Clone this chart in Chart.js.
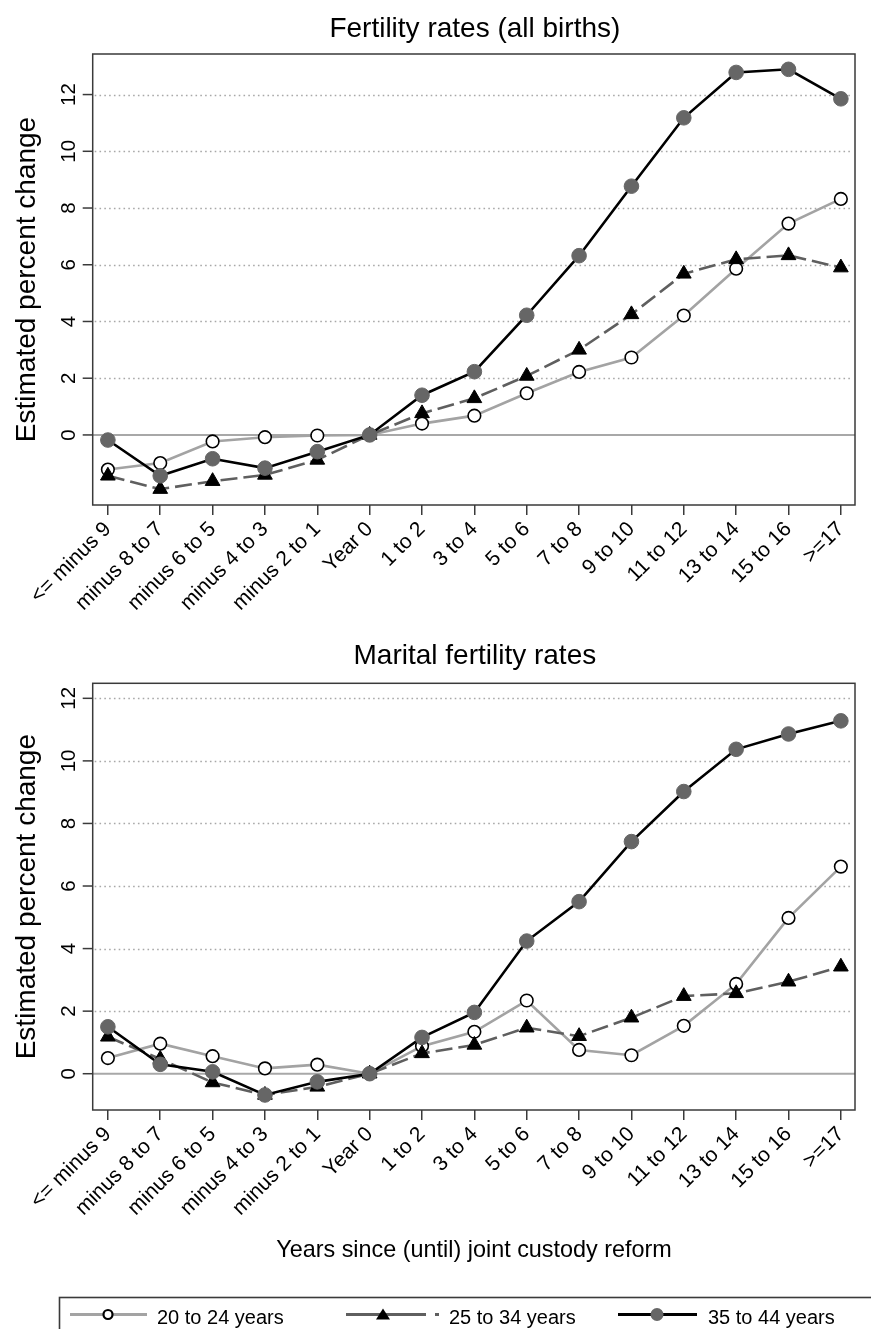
<!DOCTYPE html>
<html>
<head>
<meta charset="utf-8">
<script src="https://cdn.jsdelivr.net/npm/chart.js@4.4.0/dist/chart.umd.min.js"></script>
<style>
html,body{margin:0;padding:0;background:#fff;width:871px;height:1329px;overflow:hidden;}
canvas{position:absolute;left:0;display:block;}
#c1{top:0;}
#c2{top:630px;}
</style>
</head>
<body>
<canvas id="c1" width="871" height="630"></canvas>
<canvas id="c2" width="871" height="699"></canvas>
<script>
// ---------------- DATA ----------------
const categories = ['<= minus 9','minus 8 to 7','minus 6 to 5','minus 4 to 3','minus 2 to 1','Year 0',
  '1 to 2','3 to 4','5 to 6','7 to 8','9 to 10','11 to 12','13 to 14','15 to 16','>=17'];
const seriesNames = ['20 to 24 years','25 to 34 years','35 to 44 years'];
const yTickValues = [0, 2, 4, 6, 8, 10, 12];

const allBirths20to24 = [-1.22, -0.99, -0.23, -0.08, -0.02, 0, 0.40, 0.68, 1.47, 2.22, 2.73, 4.21, 5.86, 7.45, 8.32];
const allBirths25to34 = [-1.44, -1.91, -1.63, -1.41, -0.88, 0, 0.76, 1.29, 2.08, 3.00, 4.25, 5.68, 6.19, 6.33, 5.90];
const allBirths35to44 = [-0.18, -1.44, -0.84, -1.17, -0.59, 0, 1.40, 2.23, 4.22, 6.32, 8.77, 11.18, 12.78, 12.89, 11.85];

const marital20to24 = [0.50, 0.96, 0.56, 0.17, 0.29, 0, 0.88, 1.34, 2.34, 0.76, 0.59, 1.53, 2.87, 4.98, 6.62];
const marital25to34 = [1.18, 0.47, -0.28, -0.68, -0.42, 0, 0.65, 0.92, 1.47, 1.20, 1.79, 2.48, 2.57, 2.94, 3.42];
const marital35to44 = [1.50, 0.30, 0.06, -0.68, -0.26, 0, 1.16, 1.96, 4.24, 5.50, 7.42, 9.02, 10.37, 10.86, 11.28];

// ---------------- STYLES ----------------
const FONT = '"Liberation Sans", Arial, Helvetica, sans-serif';
const styles = [
  {borderColor:'#a3a3a3', borderWidth:2.6, borderDash:[], pointStyle:'circle', pointRadius:6.3,
   pointBackgroundColor:'#ffffff', pointBorderColor:'#000000', pointBorderWidth:1.6, order:3},
  {borderColor:'#5f5f5f', borderWidth:2.6, borderDash:[17,6], pointStyle:'triangle', pointRadius:8.5,
   pointBackgroundColor:'#000000', pointBorderColor:'#000000', pointBorderWidth:1, order:2},
  {borderColor:'#000000', borderWidth:2.6, borderDash:[], pointStyle:'circle', pointRadius:7.3,
   pointBackgroundColor:'#666666', pointBorderColor:'#666666', pointBorderWidth:1, order:1}
];

function toPoints(arr){ return arr.map((v,i)=>({x:i, y:v})); }

function makeChart(canvasId, titleText, titleBaseline, seriesArrays, yMin, yMax, geo, extraDraw){
  const datasets = seriesArrays.map((arr, k) => Object.assign({
    label: seriesNames[k],
    data: toPoints(arr),
    fill:false, tension:0, pointHoverRadius: styles[k].pointRadius
  }, styles[k]));

  const framePlugin = {
    id:'frame'+canvasId,
    beforeDatasetsDraw(chart){
      const {ctx, chartArea:a, scales:{y}} = chart;
      ctx.save();
      ctx.strokeStyle = '#a8a8a8';
      ctx.lineWidth = 1.6;
      ctx.setLineDash([1.6,3.2]);
      yTickValues.forEach(v => {
        if (v === 0) return;
        const py = Math.round(y.getPixelForValue(v)) + 0.5;
        ctx.beginPath(); ctx.moveTo(a.left+2, py); ctx.lineTo(a.right-2, py); ctx.stroke();
      });
      ctx.setLineDash([]);
      const pz = y.getPixelForValue(0);
      ctx.strokeStyle = '#a8a8a8';
      ctx.lineWidth = 2;
      ctx.beginPath(); ctx.moveTo(a.left, pz); ctx.lineTo(a.right, pz); ctx.stroke();
      ctx.restore();
    },
    afterDraw(chart){
      const {ctx, chartArea:a, scales:{y}} = chart;
      ctx.save();
      ctx.strokeStyle = '#3a3a3a';
      ctx.lineWidth = 1.5;
      ctx.strokeRect(a.left, a.top, a.right-a.left, a.bottom-a.top);
      ctx.fillStyle = '#000';
      ctx.font = '20.5px ' + FONT;
      ctx.lineWidth = 1.5;
      ctx.strokeStyle = '#3a3a3a';
      yTickValues.forEach(v => {
        const py = y.getPixelForValue(v);
        ctx.beginPath(); ctx.moveTo(a.left-10, py); ctx.lineTo(a.left, py); ctx.stroke();
        ctx.save();
        ctx.translate(74.5, py);
        ctx.rotate(-Math.PI/2);
        ctx.textAlign = 'center';
        ctx.textBaseline = 'alphabetic';
        ctx.fillText(String(v), 0, 0);
        ctx.restore();
      });
      ctx.font = '28px ' + FONT;
      ctx.textAlign = 'center';
      ctx.textBaseline = 'alphabetic';
      ctx.fillText(titleText, (a.left + a.right)/2 + 1, titleBaseline);
      ctx.restore();
      if (extraDraw) extraDraw(chart);
    }
  };

  return new Chart(document.getElementById(canvasId), {
    type:'line',
    data:{ datasets },
    options:{
      responsive:false,
      animation:false,
      events:[],
      layout:{ padding:{ top:geo.top, right:geo.right, left:0, bottom:0 } },
      plugins:{ legend:{display:false}, tooltip:{enabled:false}, title:{display:false} },
      scales:{
        x:{
          type:'linear',
          min:-0.29, max:14.27,
          afterBuildTicks(scale){ scale.ticks = categories.map((_,i)=>({value:i})); },
          afterFit(scale){ scale.height = geo.xHeight; scale.paddingLeft = 0; scale.paddingRight = 0; },
          border:{display:false},
          grid:{ drawOnChartArea:false, drawTicks:true, tickLength:10, color:'#3a3a3a', lineWidth:1.5 },
          ticks:{
            autoSkip:false, minRotation:45, maxRotation:45, padding:2,
            color:'#000', font:{family:FONT, size:21},
            callback:(v)=>categories[v]
          }
        },
        y:{
          min:yMin, max:yMax,
          afterBuildTicks(scale){ scale.ticks = yTickValues.map(v=>({value:v})); },
          afterFit(scale){ scale.width = geo.left; },
          border:{display:false},
          grid:{display:false},
          ticks:{display:false},
          title:{ display:true, text:'Estimated percent change', color:'#000',
                  font:{family:FONT, size:28}, padding:{top:10, bottom:0} }
        }
      }
    },
    plugins:[framePlugin]
  });
}

makeChart('c1', 'Fertility rates (all births)', 36.5,
  [allBirths20to24, allBirths25to34, allBirths35to44],
  -2.47, 13.43,
  {top:54, right:16, left:92.7, xHeight:630-505});

function drawLegendAndAxisTitle(chart){
  const ctx = chart.ctx;
  ctx.save();
  ctx.fillStyle = '#000';
  ctx.font = '23.4px ' + FONT;
  ctx.textAlign = 'center';
  ctx.textBaseline = 'alphabetic';
  ctx.fillText('Years since (until) joint custody reform', 474, 1256.5-630);
  ctx.strokeStyle = '#3a3a3a';
  ctx.lineWidth = 1.6;
  ctx.strokeRect(59.5, 1297.5-630, 900, 100);
  const ly = 1314.5 - 630;
  const items = [
    {segs:[[70,147]], mx:108, tx:157},
    {segs:[[346,426],[435,439]], mx:383, tx:449},
    {segs:[[618,697]], mx:657, tx:708}
  ];
  items.forEach((it, k) => {
    const s = styles[k];
    ctx.save();
    ctx.strokeStyle = s.borderColor;
    ctx.lineWidth = 3;
    it.segs.forEach(sg => { ctx.beginPath(); ctx.moveTo(sg[0], ly); ctx.lineTo(sg[1], ly); ctx.stroke(); });
    ctx.fillStyle = s.pointBackgroundColor;
    ctx.strokeStyle = s.pointBorderColor;
    if (k === 0) {
      ctx.lineWidth = 2.2;
      ctx.beginPath(); ctx.arc(it.mx, ly, 4.5, 0, Math.PI*2); ctx.fill(); ctx.stroke();
    } else if (k === 1) {
      ctx.beginPath();
      ctx.moveTo(it.mx, ly-6); ctx.lineTo(it.mx+7, ly+5); ctx.lineTo(it.mx-7, ly+5); ctx.closePath();
      ctx.fill();
    } else {
      ctx.beginPath(); ctx.arc(it.mx, ly, 6.5, 0, Math.PI*2); ctx.fill();
    }
    ctx.restore();
    ctx.fillStyle = '#000';
    ctx.font = '20px ' + FONT;
    ctx.textAlign = 'left';
    ctx.fillText(seriesNames[k], it.tx, 1323.5-630);
  });
  ctx.restore();
}

makeChart('c2', 'Marital fertility rates', 664-630,
  [marital20to24, marital25to34, marital35to44],
  -1.16, 12.48,
  {top:683.3-630, right:16, left:92.7, xHeight:699-(1110-630)},
  drawLegendAndAxisTitle);
</script>
</body>
</html>
